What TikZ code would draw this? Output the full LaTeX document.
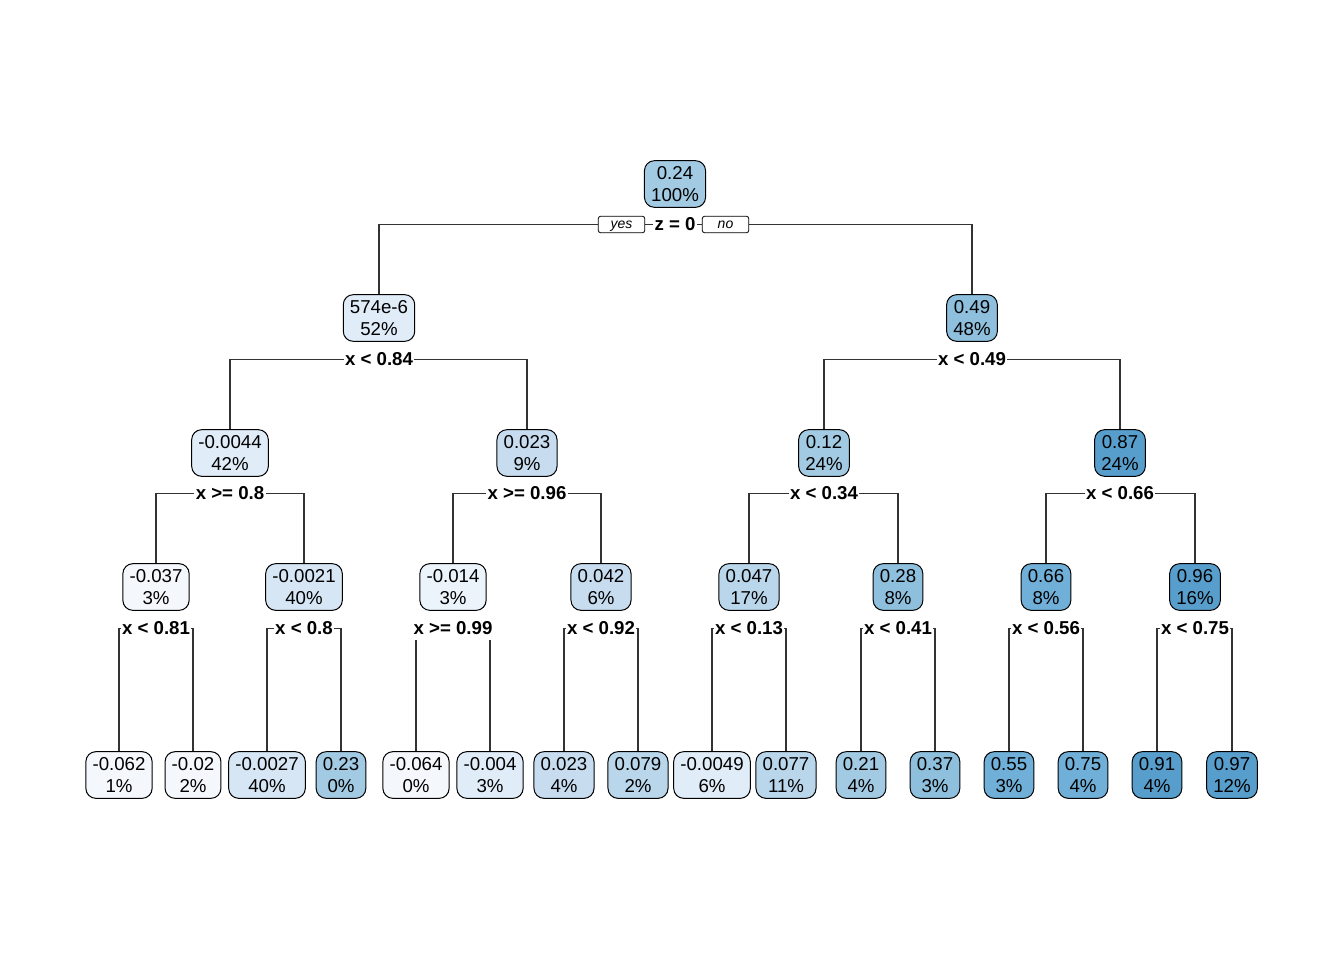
\documentclass[tikz,border=0pt]{standalone}
\usepackage{fontspec}
\setmainfont{Liberation Sans}
\usetikzlibrary{backgrounds}
\definecolor{cA}{HTML}{F4F8FD}
\definecolor{cB}{HTML}{EBF3FB}
\definecolor{cC}{HTML}{E0ECF8}
\definecolor{cD}{HTML}{D6E6F4}
\definecolor{cE}{HTML}{C8DCF0}
\definecolor{cF}{HTML}{BAD6EB}
\definecolor{cG}{HTML}{A3CAE3}
\definecolor{cH}{HTML}{8EBFDD}
\definecolor{cI}{HTML}{70AFD7}
\definecolor{cJ}{HTML}{579ECD}
\definecolor{edgegray}{HTML}{333333}
\tikzset{
  leaf/.style={draw=black, line width=0.75pt, rounded corners=7.5pt, align=center,
    font=\fontsize{14}{16.5}\selectfont, inner xsep=5pt, inner ysep=0pt,
    minimum height=35pt, fill=#1},
  splitlab/.style={fill=white, font=\fontsize{14}{16.5}\selectfont\bfseries,
    inner xsep=1pt, inner ysep=3pt, text height=10.2pt, text depth=0.5pt},
  yn/.style={draw=black, fill=white, line width=0.6pt, rounded corners=2pt,
    font=\fontsize{10.5}{12}\selectfont\itshape, minimum width=35pt,
    minimum height=12.5pt, inner sep=0pt, text height=7.5pt, text depth=2pt},
  link/.style={draw=edgegray, line width=0.9pt}
}
\newcommand\splitedge[3]{\draw[link] (#2.north) |- (#1.center) -| (#3.north);}
\begin{document}
\begin{tikzpicture}[x=0.75pt,y=-0.75pt]
\useasboundingbox (0,0) rectangle (1344,960);
% level 0
\node[leaf=cG] (n1) at (675,184) {0.24\\100\%};
% level 1
\node[leaf=cC] (n2) at (379,318) {574e-6\\52\%};
\node[leaf=cH] (n3) at (972,318) {0.49\\48\%};
% level 2
\node[leaf=cC] (n4) at (230,453) {-0.0044\\42\%};
\node[leaf=cE] (n5) at (527,453) {0.023\\9\%};
\node[leaf=cG] (n6) at (824,453) {0.12\\24\%};
\node[leaf=cJ] (n7) at (1120,453) {0.87\\24\%};
% level 3
\node[leaf=cA] (n8) at (156,587) {-0.037\\3\%};
\node[leaf=cD] (n9) at (304,587) {-0.0021\\40\%};
\node[leaf=cB] (n10) at (453,587) {-0.014\\3\%};
\node[leaf=cE] (n11) at (601,587) {0.042\\6\%};
\node[leaf=cF] (n12) at (749,587) {0.047\\17\%};
\node[leaf=cH] (n13) at (898,587) {0.28\\8\%};
\node[leaf=cI] (n14) at (1046,587) {0.66\\8\%};
\node[leaf=cJ] (n15) at (1195,587) {0.96\\16\%};
% level 4
\node[leaf=cA] (n16) at (119,775) {-0.062\\1\%};
\node[leaf=cA] (n17) at (193,775) {-0.02\\2\%};
\node[leaf=cD] (n18) at (267,775) {-0.0027\\40\%};
\node[leaf=cG] (n19) at (341,775) {0.23\\0\%};
\node[leaf=cA] (n20) at (416,775) {-0.064\\0\%};
\node[leaf=cC] (n21) at (490,775) {-0.004\\3\%};
\node[leaf=cE] (n22) at (564,775) {0.023\\4\%};
\node[leaf=cF] (n23) at (638,775) {0.079\\2\%};
\node[leaf=cC] (n24) at (712,775) {-0.0049\\6\%};
\node[leaf=cF] (n25) at (786,775) {0.077\\11\%};
\node[leaf=cG] (n26) at (861,775) {0.21\\4\%};
\node[leaf=cH] (n27) at (935,775) {0.37\\3\%};
\node[leaf=cI] (n28) at (1009,775) {0.55\\3\%};
\node[leaf=cI] (n29) at (1083,775) {0.75\\4\%};
\node[leaf=cJ] (n30) at (1157,775) {0.91\\4\%};
\node[leaf=cJ] (n31) at (1232,775) {0.97\\12\%};
% split labels
\node[splitlab] (s1) at (675,224.5) {z = 0};
\node[yn] (yes) at (621.5,224.5) {yes};
\node[yn] (no) at (725.5,224.5) {no};
\node[splitlab] (s2) at (379,359.5) {x < 0.84};
\node[splitlab] (s3) at (972,359.5) {x < 0.49};
\node[splitlab] (s4) at (230,493.5) {x >= 0.8};
\node[splitlab] (s5) at (527,493.5) {x >= 0.96};
\node[splitlab] (s6) at (824,493.5) {x < 0.34};
\node[splitlab] (s7) at (1120,493.5) {x < 0.66};
\node[splitlab] (s8) at (156,628.5) {x < 0.81};
\node[splitlab] (s9) at (304,628.5) {x < 0.8};
\node[splitlab] (s10) at (453,628.5) {x >= 0.99};
\node[splitlab] (s11) at (601,628.5) {x < 0.92};
\node[splitlab] (s12) at (749,628.5) {x < 0.13};
\node[splitlab] (s13) at (898,628.5) {x < 0.41};
\node[splitlab] (s14) at (1046,628.5) {x < 0.56};
\node[splitlab] (s15) at (1195,628.5) {x < 0.75};
% connectors
\begin{scope}[on background layer]
\fill[white] (0,0) rectangle (1344,960);
\splitedge{s1}{n2}{n3}
\splitedge{s2}{n4}{n5}
\splitedge{s3}{n6}{n7}
\splitedge{s4}{n8}{n9}
\splitedge{s5}{n10}{n11}
\splitedge{s6}{n12}{n13}
\splitedge{s7}{n14}{n15}
\splitedge{s8}{n16}{n17}
\splitedge{s9}{n18}{n19}
\splitedge{s10}{n20}{n21}
\splitedge{s11}{n22}{n23}
\splitedge{s12}{n24}{n25}
\splitedge{s13}{n26}{n27}
\splitedge{s14}{n28}{n29}
\splitedge{s15}{n30}{n31}
\end{scope}
\end{tikzpicture}
\end{document}
